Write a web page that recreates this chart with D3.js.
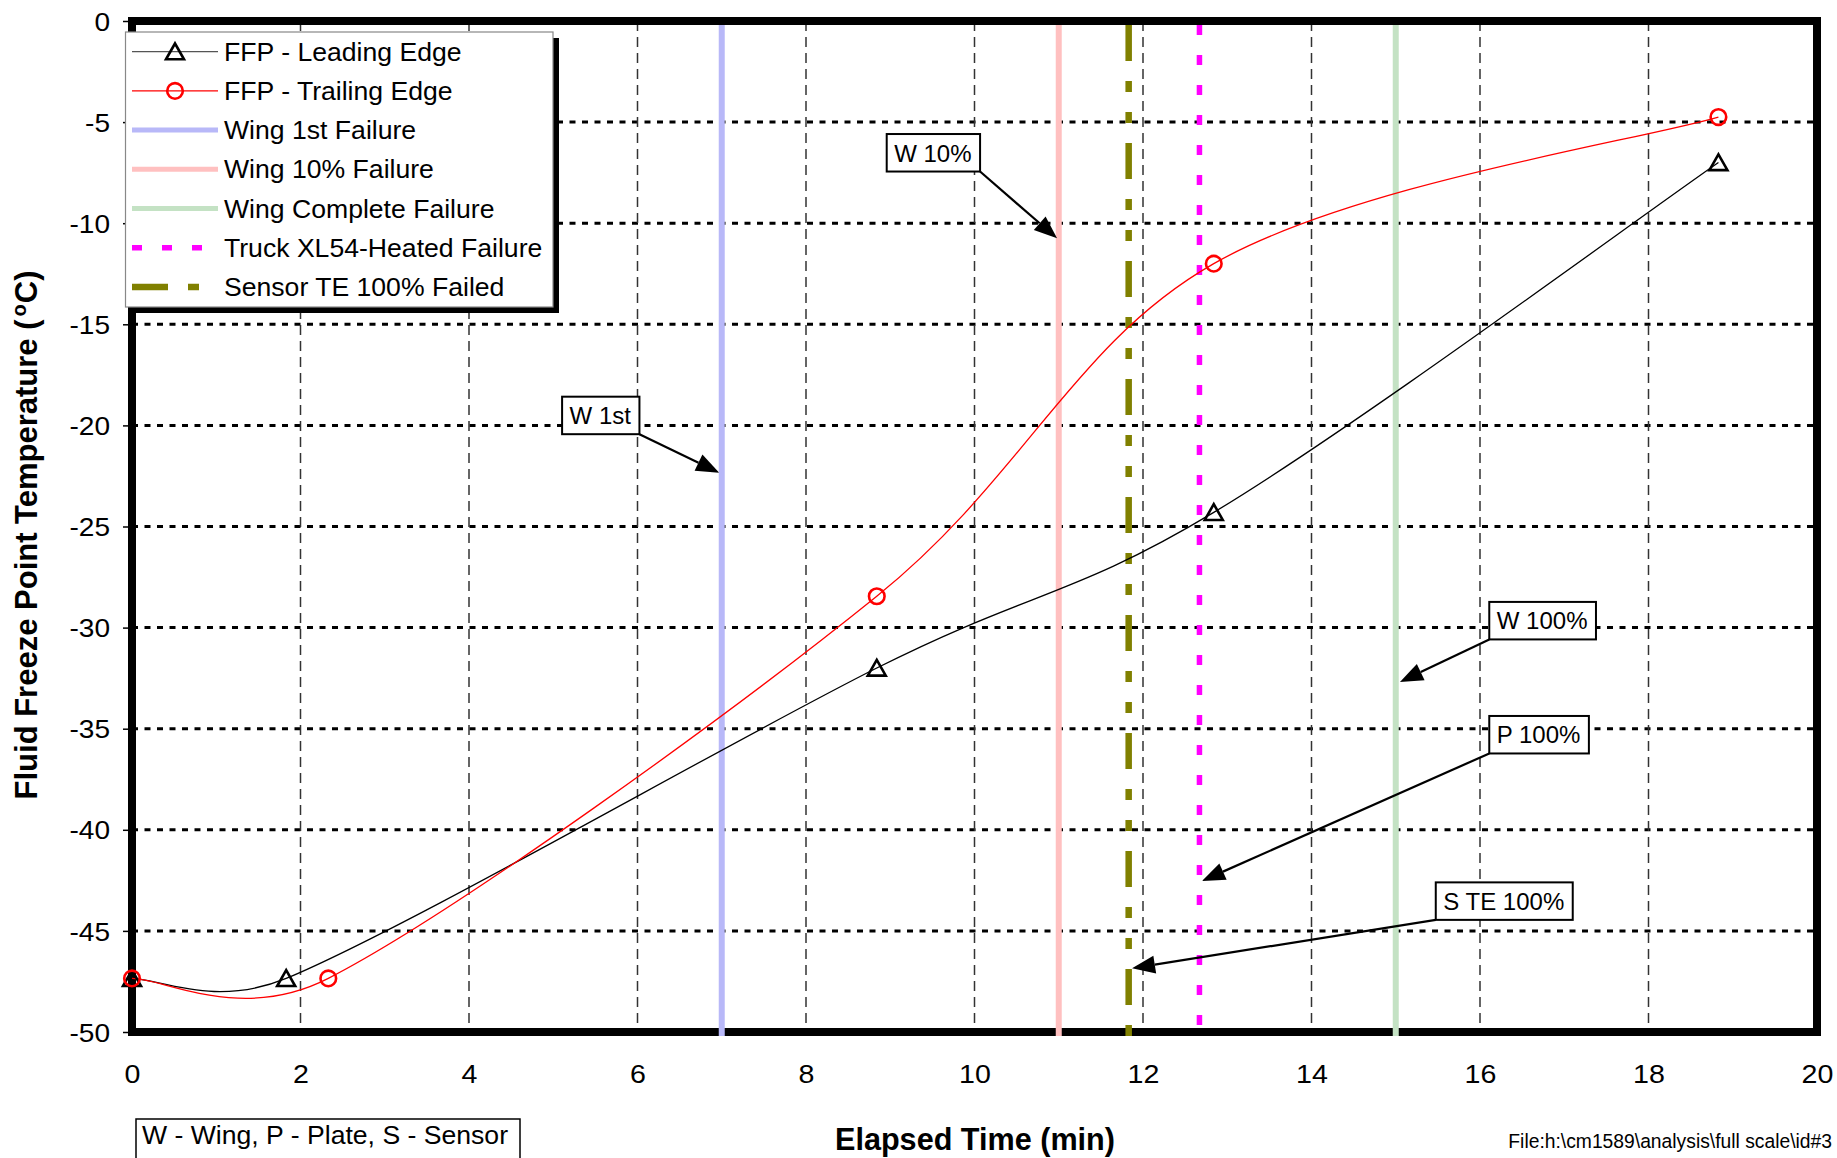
<!DOCTYPE html>
<html><head><meta charset="utf-8">
<script src="https://cdn.jsdelivr.net/npm/d3@7"></script>
<style>
body{margin:0;background:#fff;}
svg{display:block;font-family:"Liberation Sans",Arial,sans-serif;}
</style>
</head><body>
<svg id="chart" width="1837" height="1158"></svg>
<script>
// ---------------- data ----------------
const xTickValues = [0, 2, 4, 6, 8, 10, 12, 14, 16, 18, 20];
const yTickValues = [0, -5, -10, -15, -20, -25, -30, -35, -40, -45, -50];

const timeLE = [0, 1.83, 8.84, 12.84, 18.83];
const ffpLE  = [-47.35, -47.35, -32.0, -24.3, -7.0];
const timeTE = [0, 2.33, 8.84, 12.84, 18.83];
const ffpTE  = [-47.35, -47.35, -28.45, -12.0, -4.75];

const seriesNames = ["FFP - Leading Edge", "FFP - Trailing Edge"];
const failureNames = ["Wing 1st Failure", "Wing 10% Failure", "Wing Complete Failure",
                      "Truck XL54-Heated Failure", "Sensor TE 100% Failed"];
const failureTimes = [7.0, 11.0, 15.0, 12.67, 11.83];

const annotationLabels = ["W 1st", "W 10%", "W 100%", "P 100%", "S TE 100%"];
const annotationBoxX = [5.105, 8.958, 16.11, 16.11, 15.475];
const annotationBoxY = [-18.58, -5.59, -28.73, -34.37, -42.60];
const annotationTipX = [6.97, 10.98, 15.05, 12.70, 11.87];
const annotationTipY = [-22.34, -10.75, -32.69, -42.53, -46.85];

const xTitle = "Elapsed Time (min)";
const yTitle = "Fluid Freeze Point Temperature (";
const noteText = "W - Wing, P - Plate, S - Sensor";
const fileText = "File:h:\\cm1589\\analysis\\full scale\\id#3";

// ---------------- styles ----------------
const failureStyles = [
  {color: "#b8b8f8", width: 6, dash: null},
  {color: "#ffc0c0", width: 6, dash: null},
  {color: "#c4e2c4", width: 6, dash: null},
  {color: "#ff00ff", width: 5.5, dash: "10,20"},
  {color: "#808000", width: 6.5, dash: "36,20,11,20,11,20"}
];

const svg = d3.select("#chart");
const X0 = 132, X1 = 1817, Y0 = 21, Y1 = 1032;
const x = d3.scaleLinear().domain([0, 20]).range([X0, X1]);
const y = d3.scaleLinear().domain([0, -50]).range([Y0, Y1]);
const fmt = d => String(d);

// Excel-like smoothed line: Bezier with 1/6 tangents, limited to half the segment length
function ExcelSmooth(context) { this._context = context; }
ExcelSmooth.prototype = {
  areaStart() {}, areaEnd() {},
  lineStart() { this._pts = []; },
  point(px, py) { this._pts.push([+px, +py]); },
  lineEnd() {
    const p = this._pts, n = p.length, c = this._context;
    if (!n) return;
    c.moveTo(p[0][0], p[0][1]);
    for (let i = 0; i < n - 1; i++) {
      const a = p[i], b = p[i + 1];
      const pa = p[Math.max(i - 1, 0)], pb = p[Math.min(i + 2, n - 1)];
      const dab = Math.hypot(b[0] - a[0], b[1] - a[1]);
      const t1x = b[0] - pa[0], t1y = b[1] - pa[1], l1 = Math.hypot(t1x, t1y);
      const s1 = l1 / 6 > dab / 2 ? (dab / 2) / l1 : 1 / 6;
      const t2x = pb[0] - a[0], t2y = pb[1] - a[1], l2 = Math.hypot(t2x, t2y);
      const s2 = l2 / 6 > dab / 2 ? (dab / 2) / l2 : 1 / 6;
      c.bezierCurveTo(a[0] + t1x * s1, a[1] + t1y * s1, b[0] - t2x * s2, b[1] - t2y * s2, b[0], b[1]);
    }
  }
};
const excelCurve = ctx => new ExcelSmooth(ctx);

// grid
const grid = svg.append("g");
grid.selectAll("line.h").data(yTickValues.filter(v => v !== 0 && v !== -50)).enter()
  .append("line").attr("x1", X0).attr("x2", X1)
  .attr("y1", d => y(d)).attr("y2", d => y(d))
  .attr("stroke", "#000").attr("stroke-width", 3).attr("stroke-dasharray", "6,6.5");
grid.selectAll("line.v").data(xTickValues.filter(v => v !== 0 && v !== 20)).enter()
  .append("line").attr("y1", Y0).attr("y2", Y1)
  .attr("x1", d => x(d)).attr("x2", d => x(d))
  .attr("stroke", "#333").attr("stroke-width", 1.5).attr("stroke-dasharray", "10,6");

// axes
const yAxis = svg.append("g").attr("transform", `translate(${X0},0)`)
  .call(d3.axisLeft(y).tickValues(yTickValues).tickSize(9).tickPadding(13).tickFormat(fmt));
yAxis.select(".domain").remove();
yAxis.selectAll(".tick line").attr("stroke", "#000").attr("stroke-width", 1.5);
yAxis.selectAll(".tick text").attr("font-size", 26).attr("font-family", "Liberation Sans, Arial, sans-serif")
  .attr("fill", "#000").attr("dy", "0.35em")
  .attr("transform", "scale(1.08,1)").attr("x", -22 / 1.08);

const xAxis = svg.append("g").attr("transform", `translate(0,${Y1})`)
  .call(d3.axisBottom(x).tickValues(xTickValues).tickSize(0).tickFormat(fmt));
xAxis.select(".domain").remove();
xAxis.selectAll(".tick text").attr("font-size", 26).attr("font-family", "Liberation Sans, Arial, sans-serif")
  .attr("fill", "#000").attr("y", 51).attr("dy", 0).attr("transform", "scale(1.1,1)");

// plot frame
svg.append("rect").attr("x", X0).attr("y", Y0).attr("width", X1 - X0).attr("height", Y1 - Y0)
  .attr("fill", "none").attr("stroke", "#000").attr("stroke-width", 8);

// failure lines
svg.append("g").selectAll("line").data(failureTimes.map((t, i) => ({t, s: failureStyles[i]}))).enter()
  .append("line")
  .attr("x1", d => x(d.t)).attr("x2", d => x(d.t))
  .attr("y1", Y0 + 4).attr("y2", Y1 + 4)
  .attr("stroke", d => d.s.color).attr("stroke-width", d => d.s.width)
  .attr("stroke-dasharray", d => d.s.dash);

// curves
const line = d3.line().x(d => x(d[0])).y(d => y(d[1])).curve(excelCurve);
const dataLE = timeLE.map((t, i) => [t, ffpLE[i]]);
const dataTE = timeTE.map((t, i) => [t, ffpTE[i]]);
svg.append("path").datum(dataLE).attr("d", line).attr("fill", "none").attr("stroke", "#000").attr("stroke-width", 1.3);
svg.append("path").datum(dataTE).attr("d", line).attr("fill", "none").attr("stroke", "#ff0000").attr("stroke-width", 1.3);

const triPath = "M0,-8.2 L9,7.6 L-9,7.6 Z";
svg.append("g").selectAll("path").data(dataLE).enter().append("path")
  .attr("d", triPath).attr("transform", d => `translate(${x(d[0])},${y(d[1])})`)
  .attr("fill", "none").attr("stroke", "#000").attr("stroke-width", 2.6).attr("stroke-linejoin", "miter");
svg.append("g").selectAll("circle").data(dataTE).enter().append("circle")
  .attr("cx", d => x(d[0])).attr("cy", d => y(d[1])).attr("r", 7.8)
  .attr("fill", "none").attr("stroke", "#ff0000").attr("stroke-width", 2.6);

// annotations
const ann = svg.append("g");
annotationLabels.forEach((lab, i) => {
  const bx = x(annotationBoxX[i]), by = y(annotationBoxY[i]);
  const g = ann.append("g");
  const t = g.append("text").attr("x", bx + 7.5).attr("y", by + 27.5).attr("font-size", 24)
    .attr("fill", "#000").text(lab);
  const w = t.node().getComputedTextLength() + 16;
  const h = 37.5;
  g.insert("rect", "text").attr("x", bx).attr("y", by).attr("width", w).attr("height", h)
    .attr("fill", "#fff").attr("stroke", "#000").attr("stroke-width", 2);
  const tx = x(annotationTipX[i]), ty = y(annotationTipY[i]);
  const sx = tx > bx + w ? bx + w : bx;
  const sy = by + h;
  const dx = tx - sx, dy = ty - sy, L = Math.hypot(dx, dy);
  const ux = dx / L, uy = dy / L;
  const hl = 23, hw = 9;
  const bxp = tx - ux * hl, byp = ty - uy * hl;
  g.append("line").attr("x1", sx).attr("y1", sy).attr("x2", bxp).attr("y2", byp)
    .attr("stroke", "#000").attr("stroke-width", 2.2);
  g.append("path").attr("d", `M${tx},${ty} L${bxp - uy * hw},${byp + ux * hw} L${bxp + uy * hw},${byp - ux * hw} Z`)
    .attr("fill", "#000");
});

// legend
const lg = svg.append("g");
const LX = 125.5, LY = 32, LW = 427.5, LH = 275;
lg.append("rect").attr("x", LX + 6).attr("y", LY + 6).attr("width", LW).attr("height", LH).attr("fill", "#000");
lg.append("rect").attr("x", LX).attr("y", LY).attr("width", LW).attr("height", LH)
  .attr("fill", "#fff").attr("stroke", "#888").attr("stroke-width", 1.2);
const legendItems = [
  {name: seriesNames[0], color: "#555", width: 1.3, dash: null, marker: "tri"},
  {name: seriesNames[1], color: "#ff0000", width: 1.3, dash: null, marker: "circ"}
].concat(failureNames.map((n, i) => ({name: n, color: failureStyles[i].color,
  width: i < 3 ? 5 : failureStyles[i].width, dash: failureStyles[i].dash, marker: null})));
legendItems.forEach((it, i) => {
  const cy = 51.7 + i * 39.2;
  lg.append("line").attr("x1", 132).attr("x2", 218).attr("y1", cy).attr("y2", cy)
    .attr("stroke", it.color).attr("stroke-width", it.width).attr("stroke-dasharray", it.dash);
  if (it.marker === "tri") {
    lg.append("path").attr("d", triPath).attr("transform", `translate(175,${cy})`)
      .attr("fill", "none").attr("stroke", "#000").attr("stroke-width", 2.6);
  } else if (it.marker === "circ") {
    lg.append("circle").attr("cx", 175).attr("cy", cy).attr("r", 7.8)
      .attr("fill", "none").attr("stroke", "#ff0000").attr("stroke-width", 2.6);
  }
  lg.append("text").attr("x", 224).attr("y", cy + 9).attr("font-size", 26.6).attr("fill", "#000").text(it.name);
});

// axis titles
svg.append("text").attr("x", 975).attr("y", 1150).attr("text-anchor", "middle")
  .attr("font-size", 30.6).attr("font-weight", "bold").attr("fill", "#000").text(xTitle);
const yt = svg.append("text").attr("transform", "translate(37,535) rotate(-90)")
  .attr("text-anchor", "middle").attr("font-size", 31).attr("font-weight", "bold").attr("fill", "#000");
yt.append("tspan").text(yTitle);
yt.append("tspan").attr("font-size", 20).attr("dy", -11).attr("dx", 3).text("o");
yt.append("tspan").attr("dy", 11).attr("dx", 1).text("C)");

// note box & file label
svg.append("rect").attr("x", 136).attr("y", 1119).attr("width", 384).attr("height", 60)
  .attr("fill", "#fff").attr("stroke", "#000").attr("stroke-width", 1.5);
svg.append("text").attr("x", 142).attr("y", 1144).attr("font-size", 26.6).attr("fill", "#000").text(noteText);
svg.append("text").attr("x", 1832).attr("y", 1148).attr("text-anchor", "end")
  .attr("font-size", 19.3).attr("fill", "#000").text(fileText);
</script>
</body></html>
